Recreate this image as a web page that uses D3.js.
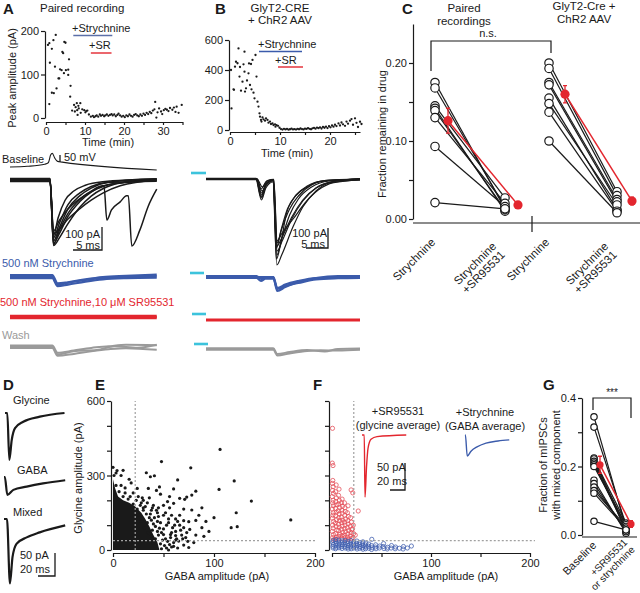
<!DOCTYPE html>
<html><head><meta charset="utf-8">
<script src="https://cdn.jsdelivr.net/npm/d3@7"></script>
<style>
body{margin:0;background:#fff;}
svg{font-family:"Liberation Sans",Arial,Helvetica,sans-serif;background:#fff;}
</style></head><body>
<svg id="c" width="640" height="593"></svg>
<script>
// ---------------- DATA ----------------
// Panel A: peak amplitude (pA) vs time (min), paired recording
const aTimeAmp = [[0.5,168],[0.85,172],[0.85,32],[1.0,127],[1.5,159],[1.5,58],[1.9,179],[2.0,57],[2.3,118],[2.5,191],[2.7,68],[3.2,91],[3.4,91],[3.6,112],[4.0,110],[4.2,152],[4.4,149],[4.6,103],[4.7,175],[5.0,173],[5.1,110],[5.7,99],[5.9,135],[5.7,111],[6.3,74],[6.2,49],[6.7,17],[7.2,30],[7.4,15],[7.6,25],[7.9,34],[8.0,18],[8.3,28],[8.4,22],[8.8,34],[8.9,12],[8.1,7],[9.3,20],[9.8,18],[10.1,13],[10.3,16],[10.6,17],[11.0,8],
[11.5,3],[12.0,5],[12.3,2],[12.7,4],[13.0,6],[13.4,3],[13.8,8],[14.1,5],[14.5,7],[14.9,4],[15.2,6],[15.6,8],[16.0,5],[16.4,7],[16.8,9],[17.1,6],[17.5,8],[17.9,4],[18.3,7],[18.6,10],[19.0,6],[19.4,3],[19.8,5],[20.2,2],[20.6,6],[21.0,4],[21.4,8],[21.8,5],[22.2,3],[22.6,7],[23.0,9],[23.4,6],[23.8,4],[24.2,8],[24.6,5],[25.0,10],[25.4,7],[25.8,12],[26.2,9],[26.6,14],[27.0,11],[27.4,17],[27.8,20],[28.0,37],[28.3,1],[28.6,13],[29.0,22],[29.5,15],[29.8,9],[30.2,18],[30.6,21],[31.0,19],[31.4,16],[31.8,23],[32.4,19],[32.8,24],[33.2,14],[33.5,26],[34.0,12],[34.8,30]];
// Panel B: GlyT2-CRE + ChR2
const bTimeAmp = [[0.2,400],[0.3,144],[0.7,271],[0.8,268],[1.0,422],[1.2,455],[1.5,445],[1.7,544],[1.9,356],[2.0,420],[2.2,262],[2.5,322],[2.7,438],[2.9,389],[2.9,522],[3.0,256],[3.2,278],[3.4,330],[3.7,378],[3.8,444],[4.0,300],[4.2,440],[4.3,271],[4.5,467],[4.7,249],[4.9,211],[5.1,500],[5.3,356],[5.5,189],[5.7,156],[5.9,111],[6.0,89],[6.2,67],[6.3,56],[6.5,84],[6.7,71],[7.0,62],[7.2,78],[7.5,67],[7.7,49],[8.0,56],[8.2,40],[8.5,44],[8.7,33],[9.0,38],[9.1,22],[9.3,33],[9.6,28],[9.9,15],
[10.2,6],[10.5,3],[10.8,8],[11.1,4],[11.4,7],[11.7,2],[12.0,5],[12.3,9],[12.6,4],[12.9,6],[13.2,3],[13.5,8],[13.8,5],[14.1,10],[14.4,6],[14.7,4],[15.0,9],[15.3,7],[15.6,12],[15.9,8],[16.2,5],[16.5,11],[16.8,14],[17.1,9],[17.4,16],[17.7,12],[18.0,18],[18.3,10],[18.6,20],[18.9,15],[19.2,22],[19.5,13],[19.8,25],[20.1,18],[20.4,30],[20.7,22],[21.0,35],[21.3,26],[21.7,44],[22.0,30],[22.3,50],[22.6,38],[23.0,28],[23.3,56],[23.6,42],[24.0,62],[24.3,73],[24.6,35],[25.0,78],[25.3,48],[25.6,20],[26.0,55],[26.3,40]];

// Panel A traces (ms, pA / mV)
const aVoltage = [[0,-65],[3,-60],[6.0,-45],[6.6,-35],[7.0,20],[7.3,32],[7.7,0],[8.2,-25],[9,-30],[25.3,-86]];
const aBaseline = [
 [[0,5],[6.9,5],[7.5,-285],[8.5,-252],[10,-190],[12,-120],[14,-70],[16,-38],[19,-13],[25.3,3]],
 [[0,-4],[6.9,-4],[7.5,-275],[8.5,-233],[10,-158],[12,-95],[14,-53],[17,-19],[25.3,-3]],
 [[0,3],[6.9,3],[7.5,-265],[8.5,-208],[10,-126],[12,-69],[14,-35],[17,-10],[25.3,4]],
 [[0,-6],[6.9,-6],[7.5,-252],[8.5,-189],[10,-107],[12,-57],[14,-28],[17,-10],[25.3,-5]],
 [[0,6],[6.9,6],[7.5,-242],[8.3,-164],[9.5,-88],[11,-48],[13,-23],[16,-8],[25.3,5]],
 [[0,0],[6.9,0],[7.5,-233],[8.5,-214],[10,-170],[12,-126],[14,-88],[16,-57],[19,-25],[25.3,0]],
 [[0,-2],[6.9,-2],[7.5,-222],[8.5,-176],[10,-126],[12,-82],[15,-38],[18,-15],[25.3,-1]],
 [[0,1],[6.9,1],[7.5,-280],[8.5,-220],[10,-145],[12,-86],[14,-48],[16,-25],[16.2,-25],[16.7,-174],[17.5,-130],[19,-95],[20.1,-69],[20.4,-69],[21,-287],[22.4,-217],[23.8,-116],[25.3,-40]]
];
const aStrych = [
 [[0,8],[7.3,8],[8.2,-28],[10,-23],[13,-10],[16,0],[20,5],[25.3,10]],
 [[0,-5],[7.3,-5],[8.2,-40],[10,-33],[13,-20],[16,-10],[20,-5],[25.3,-3]],
 [[0,1],[7.3,1],[8.2,-34],[10,-25],[13,-13],[16,-4],[20,0],[25.3,4]]
];
const aStrychSR = [[[0,5],[25.3,5]],[[0,-5],[25.3,-5]],[[0,0],[8,4],[25.3,0]]];
const aWash = [
 [[0,6],[7.3,6],[8.2,-25],[11,-15],[14,-4],[17,3],[20,10],[25.3,8]],
 [[0,-4],[7.3,-4],[8.2,-38],[11,-30],[14,-19],[17,-10],[20,-5],[25.3,-12]],
 [[0,0],[7.3,0],[8.2,-32],[11,-18],[15,-13],[18,3],[22,-3],[25.3,10]]
];
// Panel B traces (ms, pA)
const bBaseline = [
 [[0,0],[11.3,0],[12.6,-105],[13.6,-45],[15.2,-15],[16.1,-430],[17.2,-380],[19.8,-238],[22,-140],[25,-60],[28,-20],[35,-5]],
 [[0,3],[11.4,3],[12.5,-90],[13.5,-30],[15.3,-5],[16.0,-400],[17,-320],[18.3,-171],[20,-95],[23,-40],[26,-12],[35,0]],
 [[0,-3],[11.5,-3],[12.6,-70],[13.8,-20],[15.3,-8],[16.1,-380],[17.2,-300],[19,-180],[21,-100],[24,-40],[28,-10],[35,-3]],
 [[0,2],[11.6,2],[12.7,-60],[14,-15],[15.4,-5],[16.2,-360],[17.3,-310],[19.5,-200],[22,-110],[25,-45],[29,-12],[35,2]],
 [[0,-2],[11.5,-2],[12.5,-50],[13.8,-10],[15.3,-4],[16.0,-345],[17,-260],[18.5,-150],[20.5,-80],[23,-35],[27,-8],[35,-1]],
 [[0,1],[11.4,1],[12.6,-95],[13.6,-35],[15.2,-10],[16.1,-335],[17.3,-290],[19.5,-190],[22,-105],[25,-45],[29,-12],[35,1]],
 [[0,-1],[11.6,-1],[12.8,-40],[14,-8],[15.4,-2],[16.2,-320],[17.2,-250],[19,-150],[21,-85],[24,-30],[28,-6],[35,-2]],
 [[0,0],[11.5,0],[12.6,-80],[13.7,-25],[15.3,-6],[16.1,-310],[17.3,-270],[19.8,-200],[22.5,-120],[25.5,-55],[29,-18],[35,-4]]
];
const bStrych = [
 [[0,5],[11.5,5],[12.5,-10],[13.5,0],[15.3,0],[16.2,-70],[18,-50],[21,-25],[25,-5],[30,5],[35,5]],
 [[0,-5],[11.5,-5],[12.5,-20],[13.5,-8],[15.3,-8],[16.2,-60],[18,-45],[21,-30],[25,-12],[30,-6],[35,-4]],
 [[0,0],[15.3,0],[16.2,-55],[18,-38],[21,-20],[25,-5],[35,0]]
];
const bStrychSR = [[[0,3],[35,3]],[[0,-3],[35,-3]]];
const bWash = [
 [[0,4],[15.3,4],[16.2,-25],[19,-15],[23,-5],[27,-12],[30,0],[35,2]],
 [[0,-4],[15.3,-4],[16.2,-32],[19,-22],[23,-10],[26,-6],[30,-8],[35,-4]]
];

// Panel C: fraction remaining in drug (strychnine, strychnine+SR95531)
const cPaired = [[0.175,0.013],[0.168,0.015],[0.145,0.027],[0.142,0.010],[0.139,0.012],[0.130,0.020],[0.093,0.016],[0.021,0.013]];
const cChR2 = [[0.200,0.035],[0.193,0.030],[0.175,0.025],[0.172,0.022],[0.155,0.012],[0.148,0.018],[0.137,0.010],[0.100,0.008]];
const cPairedMean = [0.126,0.018], cPairedErr = [0.016,0.003];
const cChR2Mean = [0.160,0.023], cChR2Err = [0.011,0.005];
const cCategories = ["Strychnine","Strychnine\n+SR95531","Strychnine","Strychnine\n+SR95531"];

// Panel D traces (ms, pA)
const dGlycine = [[0,0],[2.7,0],[5.1,-102],[7.9,-59],[11.8,-33],[21.5,-19],[41,-8],[70,0]];
const dGABA = [[0,0],[1,0],[3.9,-39],[11,-28],[26.7,-21],[46,-14],[72,-7]];
const dMixed = [[0,0],[3.5,0],[7,-140],[10,-83],[14.7,-54],[26.7,-40],[42,-29],[72,-14]];

// Panel E: GABA amplitude vs glycine amplitude (pA)
const eDenseOutline = [[0,0],[0,285],[2,250],[5,215],[10,200],[16,190],[22,175],[28,150],[32,125],[36,95],[40,60],[44,30],[46,0]];
const ePoints = [[106,405],[105,244],[77,331],[48,356],[64,282],[10,321],[0,333],[4,320],[16,285],[33,311],[37,295],[41,299],[35,248],[43,240],[46,254],[47,225],[60,246],[56,215],[71,204],[73,213],[78,221],[82,237],[60,188],[56,170],[78,161],[82,119],[75,114],[76,83],[120,278],[137,197],[122,150],[117,90],[123,94],[176,121],[65,36],[55,0],
[50,180],[45,170],[52,150],[58,140],[62,125],[55,110],[66,100],[70,90],[62,75],[68,60],[58,70],[72,50],[63,45],[70,20],[60,15],[64,8],[50,140],[40,180],[30,200],[25,215],[20,230],[12,250],[28,190],[38,160],[45,135],[53,100],[50,85],[57,50],[66,140],[70,165],[85,140],[88,90],[82,60],[92,115],[100,130],[95,75],[30,170],[44,150],[36,210],[18,270],[8,300],[3,310],[24,248],[66,208],[54,195],[88,170],[90,55],[74,35],[80,30],[62,58],[70,118],
[30,160],[33,145],[36,130],[34,110],[38,120],[40,105],[42,95],[39,80],[44,75],[46,88],[48,70],[45,60],[50,62],[52,45],[49,40],[54,35],[47,25],[51,18],[56,22],[58,12],[53,8],[48,5],[42,45],[38,55],[35,70],[31,90],[28,115],[26,140],[24,165],[20,185],[15,205],[10,215],[6,235],[3,260],[1,300],[44,115],[41,130],[37,145],[32,175],[27,180],[60,30],[62,40],[57,62],[59,90],[55,125],[47,110],[43,160],[39,170],[34,190],[29,210],[23,200],[17,215],[12,230],[8,260],[61,100],[64,115],[67,80],[69,45],[73,70],[75,10]];
const thresholdGABA = 22, thresholdGly = 38;

// Panel F
const fGlycineEvents = [[0.5,490],[0.3,350],[1.0,340],[0.8,280],[0.4,268],[1.2,255],[0.6,240],[1.5,228],[0.2,215],[1.1,200],[0.7,190],[1.6,178],[0.3,165],[1.3,150],[0.9,140],[0.4,128],[1.7,115],[0.6,100],[1.2,88],[0.3,75],[1.5,62],[0.8,50],[1.9,42],
[4.2,262],[3.6,235],[4.5,210],[3.8,195],[4.8,182],[3.5,168],[4.4,152],[3.9,138],[4.6,122],[3.4,108],[4.1,95],[4.9,80],[3.7,66],[4.3,52],[3.3,44],
[7.1,245],[6.6,220],[7.4,200],[6.9,185],[7.8,170],[6.4,158],[7.2,145],[6.8,130],[7.6,118],[6.5,104],[7.3,92],[6.7,78],[7.9,64],[7.0,55],[6.3,45],
[10.2,205],[9.6,190],[10.6,176],[9.9,160],[10.4,148],[9.4,132],[10.8,120],[9.8,110],[10.3,96],[9.5,84],[10.9,70],[10.1,58],[9.7,47],
[13.1,170],[12.6,190],[13.5,155],[12.9,140],[13.8,125],[12.5,112],[13.3,100],[12.8,86],[13.6,74],[12.4,60],[13.2,50],[14.0,41],
[16.2,178],[15.6,150],[16.6,135],[15.9,118],[16.4,105],[15.4,90],[16.8,78],[16.0,65],[15.7,52],[16.5,44],
[19.3,242],[18.8,130],[19.6,112],[18.6,96],[19.9,82],[19.1,70],[18.4,56],[19.7,46],
[21.0,230],[21.5,100],[20.8,85],[21.8,66],[21.2,50],[26.5,157],[23.5,60]];
const fGABAEvents = [[1.0,38],[0.6,30],[1.4,22],[0.8,15],[1.2,8],[4.1,42],[3.7,35],[4.5,27],[3.9,19],[4.3,11],[3.6,5],[7.2,40],[6.8,32],[7.5,24],[6.6,16],[7.1,9],[10.3,37],[9.8,29],[10.6,21],[9.6,13],[10.1,6],[13.2,39],[12.7,31],[13.6,23],[12.9,15],[13.4,8],[16.1,34],[15.8,26],[16.5,18],[15.6,10],[16.3,4],[19.2,38],[18.7,28],[19.5,20],[18.9,12],[19.4,5],[22.1,32],[21.7,24],[22.5,16],[21.9,8],[25.2,36],[24.8,27],[25.6,19],[24.6,11],[25.3,4],[28.1,30],[27.7,22],[28.5,14],[27.9,7],[31.2,33],[30.8,25],[31.6,17],[30.6,9],[31.3,3],[34.2,28],[33.8,20],[34.5,12],[33.9,5],[37.1,24],[36.8,15],[37.4,7],[40.2,43],[39.8,18],[40.5,9],[40.0,2],[44.1,21],[43.7,12],[44.4,5],[48.2,16],[47.8,8],[52.1,26],[51.7,14],[52.4,6],[56.2,11],[55.8,4],[60.1,18],[59.7,8],[64.2,12],[63.8,5],[68.1,7],[72.2,14],[71.8,4],[76.1,8],[80.2,16]];
const fGlyAverage = [[0,0],[3,0],[4,-115],[6,-60],[8,-25],[12,-8],[20,-3],[59,0]];
const fGABAAverage = [[0,0],[0.5,0],[3,-39],[8,-30],[16,-22],[28,-15],[44,-11],[59,-9]];

// Panel G: fraction of mIPSCs with mixed component (baseline, +SR95531 or strychnine)
const gPairs = [[0.345,0.02],[0.315,0.03],[0.225,0.01],[0.222,0.035],[0.215,0.025],[0.21,0.015],[0.205,0.02],[0.2,0.03],[0.16,0.005],[0.15,0.01],[0.14,0.015],[0.13,0.025],[0.122,0.02],[0.04,0.015]];
const gMean = [0.205,0.032], gErr = [0.025,0.01];
const gCategories = ["Baseline","+SR95531\nor strychnine"];

// ---------------- DRAWING ----------------
const FONT = "Liberation Sans, Arial, Helvetica, sans-serif";
const INK = "#1a1a1a";
const BLUE = "#3b5bab", RED = "#e3262e", GRAY = "#9a9a9a", CYAN = "#3cc3dc";
const svg = d3.select("#c");

function text(x, y, s, o = {}) {
  const t = svg.append("text").attr("x", x).attr("y", y).text(s)
    .attr("font-size", o.size || 11).attr("fill", o.fill || INK)
    .attr("text-anchor", o.anchor || "start");
  if (o.weight) t.attr("font-weight", o.weight);
  if (o.rotate != null) t.attr("transform", `rotate(${o.rotate},${x},${y})`);
  return t;
}
function multiText(x, y, lines, o = {}) {
  const t = svg.append("text").attr("transform", `translate(${x},${y}) rotate(${o.rotate || 0})`)
    .attr("font-size", o.size || 11).attr("fill", o.fill || INK).attr("text-anchor", o.anchor || "end");
  lines.forEach((l, i) => t.append("tspan").attr("x", 0).attr("dy", i ? "1.05em" : 0).text(l));
  return t;
}
function axis(ax, tr) {
  const g = svg.append("g").attr("transform", tr).call(ax);
  g.attr("font-family", FONT).attr("font-size", 11);
  g.selectAll(".domain").attr("stroke", INK).attr("stroke-width", 1.2);
  g.selectAll(".tick line").attr("stroke", INK).attr("stroke-width", 1.2);
  g.selectAll(".tick text").attr("fill", INK);
  return g;
}
function traces(list, xs, ys, color, w) {
  const line = d3.line().x(d => xs(d[0])).y(d => ys(d[1])).curve(d3.curveMonotoneX);
  list.forEach(tr => svg.append("path").attr("d", line(tr)).attr("fill", "none")
    .attr("stroke", color).attr("stroke-width", w).attr("stroke-linejoin", "round"));
}
function hline(x1, x2, y, color, w) {
  svg.append("line").attr("x1", x1).attr("x2", x2).attr("y1", y).attr("y2", y).attr("stroke", color).attr("stroke-width", w);
}
function scaleBar(xs, ys, ms, pA, xEnd, yEnd, color) {
  const wpx = xs(ms) - xs(0), hpx = Math.abs(ys(-pA) - ys(0));
  svg.append("path").attr("d", `M${xEnd - wpx},${yEnd}H${xEnd}V${yEnd - hpx}`)
    .attr("fill", "none").attr("stroke", color || INK).attr("stroke-width", 1.3);
}

// Panel letters
[["A",3,14],["B",215,14],["C",402,14],["D",3,390],["E",95,390],["F",313,390],["G",543,390]]
  .forEach(([l,x,y]) => text(x, y, l, {size: 15, weight: "bold"}));

// ===== Panel A scatter =====
const xA = d3.scaleLinear([0,35],[46,182.5]);
const yA = d3.scaleLinear([0,200],[118,31]);
axis(d3.axisLeft(yA).tickValues([0,100,200]).tickSize(4).tickSizeOuter(0).tickPadding(2), "translate(45,0)");
axis(d3.axisBottom(xA).tickValues([0,5,10,15,20,25,30,35]).tickFormat(d => d % 10 === 0 ? d : "").tickSize(3).tickSizeOuter(0).tickPadding(2), "translate(0,122)");
svg.append("g").selectAll("circle").data(aTimeAmp).join("circle")
  .attr("cx", d => xA(d[0])).attr("cy", d => yA(d[1])).attr("r", 1.15).attr("fill", INK);
text(40, 12, "Paired recording", {size: 11.5});
text(72, 32, "+Strychnine", {size: 11});
hline(xA(7), xA(17), 35.5, "#5b6fa8", 1.6);
text(89, 49, "+SR", {size: 11});
hline(xA(11.5), xA(16.8), 53, RED, 1.4);
text(108, 146, "Time (min)", {anchor: "middle"});
text(16, 78, "Peak amplitude (pA)", {anchor: "middle", rotate: -90});

// ===== Panel B scatter =====
const xB = d3.scaleLinear([0,26],[230,360]);
const yB = d3.scaleLinear([0,600],[130,40]);
axis(d3.axisLeft(yB).tickValues([0,200,400,600]).tickSize(4).tickSizeOuter(0).tickPadding(2), "translate(229,0)");
axis(d3.axisBottom(xB).tickValues([0,5,10,15,20,25]).tickFormat(d => d % 10 === 0 ? d : "").tickSize(3).tickSizeOuter(0).tickPadding(2), "translate(0,132)");
svg.append("g").selectAll("circle").data(bTimeAmp).join("circle")
  .attr("cx", d => xB(d[0])).attr("cy", d => yB(d[1])).attr("r", 1.15).attr("fill", INK);
text(280, 12, "GlyT2-CRE", {anchor: "middle", size: 11.5});
text(280, 24, "+ ChR2 AAV", {anchor: "middle", size: 11.5});
text(258, 48, "+Strychnine", {size: 11});
hline(xB(5.8), xB(14.4), 51.5, BLUE, 1.6);
text(275, 64, "+SR", {size: 11});
hline(xB(9.6), xB(14.6), 67, RED, 1.4);
text(287, 157, "Time (min)", {anchor: "middle"});

// ===== Panel A traces =====
const kA = 5.8, pA_A = 0.23;
const xAt = d3.scaleLinear([0,25.3],[10,10 + 25.3*kA]);
const yAv = d3.scaleLinear([-65,35],[167,153]);
traces([aVoltage], xAt, yAv, INK, 1.1);
text(2, 163, "Baseline", {size: 11});
svg.append("line").attr("x1",60).attr("x2",60).attr("y1",yAv(-30)).attr("y2",yAv(20)).attr("stroke",INK).attr("stroke-width",1.3);
text(64, 161, "50 mV", {size: 11});
const yAb = d3.scaleLinear([0,-300],[180,180 + 300*pA_A]);
traces(aBaseline, xAt, yAb, INK, 1.5);
scaleBar(xAt, yAb, 5, 100, 102, 250);
text(100, 238, "100 pA", {anchor: "end"});
text(100, 249, "5 ms", {anchor: "end"});
text(2, 267, "500 nM Strychnine", {fill: BLUE});
traces(aStrych, xAt, d3.scaleLinear([0,-100],[277,277 + 100*pA_A]), BLUE, 2.2);
text(0, 306, "500 nM Strychnine,10 \u03bcM SR95531", {fill: RED});
traces(aStrychSR, xAt, d3.scaleLinear([0,-100],[317,317 + 100*pA_A]), RED, 2.2);
text(2, 339, "Wash", {fill: GRAY});
traces(aWash, xAt, d3.scaleLinear([0,-100],[347,347 + 100*pA_A]), GRAY, 2.0);

// ===== Panel B traces =====
const kB = 4.4, pA_B = 0.2;
const xBt = d3.scaleLinear([0,35],[206,206 + 35*kB]);
[[173,191,206],[273,190,204],[314,192,206],[344,194,208]].forEach(([y,x1,x2]) => hline(x1, x2, y, CYAN, 2.6));
const yBb = d3.scaleLinear([0,-500],[179,179 + 500*pA_B]);
traces(bBaseline, xBt, yBb, INK, 1.2);
scaleBar(xBt, yBb, 5, 100, 328, 248);
text(327, 237, "100 pA", {anchor: "end"});
text(325, 248, "5 ms", {anchor: "end"});
traces(bStrych, xBt, d3.scaleLinear([0,-100],[277,277 + 100*pA_B]), BLUE, 2.2);
traces(bStrychSR, xBt, d3.scaleLinear([0,-100],[320,320 + 100*pA_B]), RED, 1.8);
traces(bWash, xBt, d3.scaleLinear([0,-100],[349,349 + 100*pA_B]), GRAY, 2.0);

// ===== Panel C =====
const yC = d3.scaleLinear([0,0.25],[219,24]);
const xC = d3.scaleOrdinal([0,1,2,3],[435,505,549,617]);
axis(d3.axisLeft(yC).tickValues([0,0.05,0.10,0.15,0.20]).tickFormat(d => [0,0.1,0.2].some(v => Math.abs(v-d) < 1e-9) ? d3.format(".2f")(d) : "").tickSize(4).tickSizeOuter(0).tickPadding(2), "translate(413,0)");
svg.append("line").attr("x1",413).attr("x2",640).attr("y1",223).attr("y2",223).attr("stroke",INK).attr("stroke-width",1.2);
svg.append("line").attr("x1",532).attr("x2",532).attr("y1",216).attr("y2",232).attr("stroke",INK).attr("stroke-width",1.2);
function pairedPanel(pairs, i0, i1, mean, err, xs, ys, r, redOff) {
  const g = svg.append("g");
  pairs.forEach(p => g.append("line").attr("x1", xs(i0)).attr("x2", xs(i1)).attr("y1", ys(p[0])).attr("y2", ys(p[1])).attr("stroke", INK).attr("stroke-width", 1.2));
  pairs.forEach(p => [[i0,p[0]],[i1,p[1]]].forEach(([i,v]) =>
    g.append("circle").attr("cx", xs(i)).attr("cy", ys(v)).attr("r", r).attr("fill", "#fff").attr("stroke", INK).attr("stroke-width", 1.2)));
  const rx = [xs(i0) + redOff[0], xs(i1) + redOff[1]];
  g.append("line").attr("x1", rx[0]).attr("x2", rx[1]).attr("y1", ys(mean[0])).attr("y2", ys(mean[1])).attr("stroke", RED).attr("stroke-width", 1.5);
  [0,1].forEach(j => {
    g.append("path").attr("d", `M${rx[j]-2},${ys(mean[j]+err[j])}H${rx[j]+2}M${rx[j]},${ys(mean[j]+err[j])}V${ys(mean[j]-err[j])}M${rx[j]-2},${ys(mean[j]-err[j])}H${rx[j]+2}`)
      .attr("stroke", RED).attr("stroke-width", 1.3).attr("fill", "none");
    g.append("circle").attr("cx", rx[j]).attr("cy", ys(mean[j])).attr("r", r + 0.4).attr("fill", RED);
  });
}
pairedPanel(cPaired, 0, 1, cPairedMean, cPairedErr, xC, yC, 4.2, [13, 13]);
pairedPanel(cChR2, 2, 3, cChR2Mean, cChR2Err, xC, yC, 4.2, [16, 15]);
svg.append("path").attr("d", `M${xC(0)-4},71V41H${xC(2)+2}V53`).attr("fill","none").attr("stroke",INK).attr("stroke-width",1.2);
text(488, 37, "n.s.", {anchor: "middle"});
text(464, 12, "Paired", {anchor: "middle", size: 11.5});
text(464, 25, "recordings", {anchor: "middle", size: 11.5});
text(584, 10, "GlyT2-Cre +", {anchor: "middle", size: 11.5});
text(584, 23, "ChR2 AAV", {anchor: "middle", size: 11.5});
text(386, 134, "Fraction remaining in drug", {anchor: "middle", rotate: -90});
cCategories.forEach((c, i) => {
  const lines = c.split("\n");
  const off = lines.length > 1 ? [-8, 247] : [1, 243];
  multiText(xC(i) + off[0], off[1], lines, {rotate: -45, anchor: "end", size: 11.5});
});

// ===== Panel D =====
const kD = 0.85, pA_D = 0.46;
traces([dGlycine], d3.scaleLinear([0,72],[5,5 + 72*kD]), d3.scaleLinear([0,-100],[413,413 + 100*pA_D]), INK, 2.2);
traces([dGABA], d3.scaleLinear([0,72],[4,4 + 72*kD]), d3.scaleLinear([0,-100],[477,477 + 100*pA_D]), INK, 2.2);
const xDm = d3.scaleLinear([0,72],[4,4 + 72*kD]), yDm = d3.scaleLinear([0,-100],[519,519 + 100*pA_D]);
traces([dMixed], xDm, yDm, INK, 2.2);
text(13, 404, "Glycine");
text(17, 474, "GABA");
text(13, 516, "Mixed");
scaleBar(xDm, yDm, 20, 50, 55, 576);
text(20, 559, "50 pA");
text(20, 573, "20 ms");

// ===== Panel E =====
const xE = d3.scaleLinear([0,200],[113,315]);
const yE = d3.scaleLinear([0,600],[550,401]);
axis(d3.axisLeft(yE).tickValues([0,100,200,300,400,500,600]).tickFormat(d => d % 300 === 0 ? d : "").tickSize(4).tickSizeOuter(0).tickPadding(2), "translate(111,0)");
axis(d3.axisBottom(xE).tickValues([0,50,100,150,200]).tickFormat(d => d % 100 === 0 ? d : "").tickSize(4).tickSizeOuter(0).tickPadding(2), "translate(0,553)");
svg.append("path").attr("d", d3.line().x(d => xE(d[0])).y(d => yE(d[1])).curve(d3.curveLinearClosed)(eDenseOutline)).attr("fill", INK);
svg.append("g").selectAll("circle").data(ePoints).join("circle")
  .attr("cx", d => xE(d[0])).attr("cy", d => yE(d[1])).attr("r", 1.6).attr("fill", INK);
function dashes(xs, ys, gx, gxMax) {
  svg.append("line").attr("x1", xs(thresholdGABA)).attr("x2", xs(thresholdGABA)).attr("y1", ys(0)).attr("y2", ys(600))
    .attr("stroke", "#a0a0a0").attr("stroke-width", 1.2).attr("stroke-dasharray", "2,2");
  svg.append("line").attr("x1", xs(gx)).attr("x2", xs(gxMax)).attr("y1", ys(thresholdGly)).attr("y2", ys(thresholdGly))
    .attr("stroke", "#a0a0a0").attr("stroke-width", 1.2).attr("stroke-dasharray", "2,2");
}
dashes(xE, yE, 0, 200);
text(82, 478, "Glycine amplitude (pA)", {anchor: "middle", rotate: -90});
text(217, 580, "GABA amplitude (pA)", {anchor: "middle"});

// ===== Panel F =====
const xF = d3.scaleLinear([0,200],[332,530]);
const yF = d3.scaleLinear([0,600],[550,401]);
axis(d3.axisLeft(yF).tickValues([0,100,200,300,400,500,600]).tickFormat("").tickSize(4).tickSizeOuter(0), "translate(329,0)");
axis(d3.axisBottom(xF).tickValues([0,50,100,150,200]).tickFormat(d => d === 100 || d === 200 ? d : "").tickSize(4).tickSizeOuter(0).tickPadding(2), "translate(0,553)");
svg.append("g").selectAll("circle").data(fGlycineEvents).join("circle")
  .attr("cx", d => xF(d[0])).attr("cy", d => yF(d[1])).attr("r", 2.1).attr("fill", "none").attr("stroke", "#e4505a").attr("stroke-width", 0.8);
svg.append("g").selectAll("circle").data(fGABAEvents).join("circle")
  .attr("cx", d => xF(d[0])).attr("cy", d => yF(d[1])).attr("r", 2.1).attr("fill", "none").attr("stroke", "#4361b0").attr("stroke-width", 0.8);
dashes(xF, yF, thresholdGABA, 205);
text(446, 580, "GABA amplitude (pA)", {anchor: "middle"});
text(398, 415, "+SR95531", {anchor: "middle"});
text(398, 429, "(glycine average)", {anchor: "middle"});
const kF = 0.75, pA_F = 0.54;
const xFr = d3.scaleLinear([0,59],[362,362 + 59*kF]), yFr = d3.scaleLinear([0,-100],[435,435 + 100*pA_F]);
traces([fGlyAverage], xFr, yFr, RED, 1.4);
scaleBar(xFr, yFr, 20, 50, 405, 490);
text(377, 471, "50 pA");
text(377, 485, "20 ms");
text(485, 416, "+Strychnine", {anchor: "middle"});
text(485, 430, "(GABA average)", {anchor: "middle"});
traces([fGABAAverage], d3.scaleLinear([0,59],[465,465 + 59*kF]), d3.scaleLinear([0,-100],[435,435 + 100*pA_F]), BLUE, 1.4);

// ===== Panel G =====
const yG = d3.scaleLinear([0,0.4],[535,398]);
const xG = d3.scaleOrdinal([0,1],[594,626]);
axis(d3.axisLeft(yG).tickValues([0,0.1,0.2,0.3,0.4]).tickFormat(d => (Math.round(d*10) % 2 === 0) ? d3.format(".1f")(d) : "").tickSize(4).tickSizeOuter(0).tickPadding(2), "translate(582,0)");
svg.append("line").attr("x1",582).attr("x2",637).attr("y1",537).attr("y2",537).attr("stroke",INK).attr("stroke-width",1.2);
pairedPanel(gPairs, 0, 1, gMean, gErr, xG, yG, 3.2, [6, 5]);
svg.append("path").attr("d", `M${xG(0)-1},410V398H${xG(1)+5}V418`).attr("fill","none").attr("stroke",INK).attr("stroke-width",1.2);
text(612, 396, "***", {anchor: "middle", size: 10, fill: INK});
text(547, 465, "Fraction of mIPSCs", {anchor: "middle", rotate: -90});
text(560, 465, "with mixed component", {anchor: "middle", rotate: -90});
multiText(597, 546, ["Baseline"], {rotate: -45, anchor: "end", size: 11});
multiText(628, 543, gCategories[1].split("\n"), {rotate: -45, anchor: "end", size: 10});
</script>
</body></html>
